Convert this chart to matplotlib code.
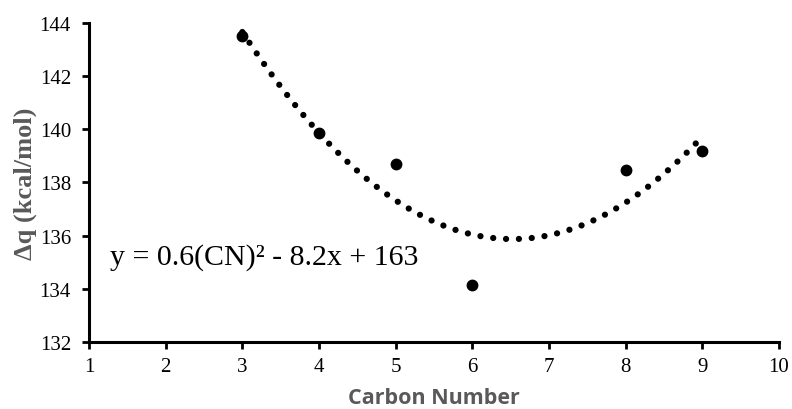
import numpy as np
import matplotlib.pyplot as plt

# data
carbon_number = [3, 4, 5, 6, 8, 9]
delta_q = [143.5, 139.85, 138.7, 134.15, 138.47, 139.2]

x_ticks = list(range(1, 11))
y_ticks = list(range(132, 145, 2))
eq_text = "y = 0.6(CN)\u00b2 - 8.2x + 163"

label_gray = "#595959"

fig = plt.figure(figsize=(7.92, 4.10), dpi=100)
ax = fig.add_axes([0.1124, 0.1634, 0.8712, 0.7781])

# quadratic trendline through the points (like Excel's polynomial trendline)
coefs = np.polyfit(carbon_number, delta_q, 2)
xs = np.linspace(min(carbon_number), max(carbon_number), 200)
ax.plot(xs, np.polyval(coefs, xs), color="black", linewidth=4.5,
        linestyle=(0, (0.01, 2.05)), dash_capstyle="round", zorder=2)

ax.plot(carbon_number, delta_q, "o", color="black", markersize=7.5, zorder=3)

ax.set_xlim(1, 10)
ax.set_ylim(132, 144)
ax.set_xticks(x_ticks)
ax.set_yticks(y_ticks)

for s in ["top", "right"]:
    ax.spines[s].set_visible(False)
for s in ["left", "bottom"]:
    ax.spines[s].set_linewidth(2.2)

ax.tick_params(axis="both", direction="out", length=5, width=2)
ax.tick_params(axis="y", pad=8)
ax.tick_params(axis="x", pad=6)
for lab in ax.get_xticklabels() + ax.get_yticklabels():
    lab.set_fontfamily("Liberation Serif")
    lab.set_fontsize(15)

ax.set_ylabel("\u0394q (kcal/mol)", fontsize=19, fontweight="bold",
              color=label_gray, family="Liberation Serif", labelpad=2)
ax.set_xlabel("Carbon Number", fontsize=15.5, fontweight="bold",
              color=label_gray, family="Open Sans", labelpad=8)

ax.text(1.27, 135.2, eq_text, fontsize=21.5, family="Liberation Serif",
        va="center", ha="left")

plt.savefig("out.png", dpi=100)
plt.close()
